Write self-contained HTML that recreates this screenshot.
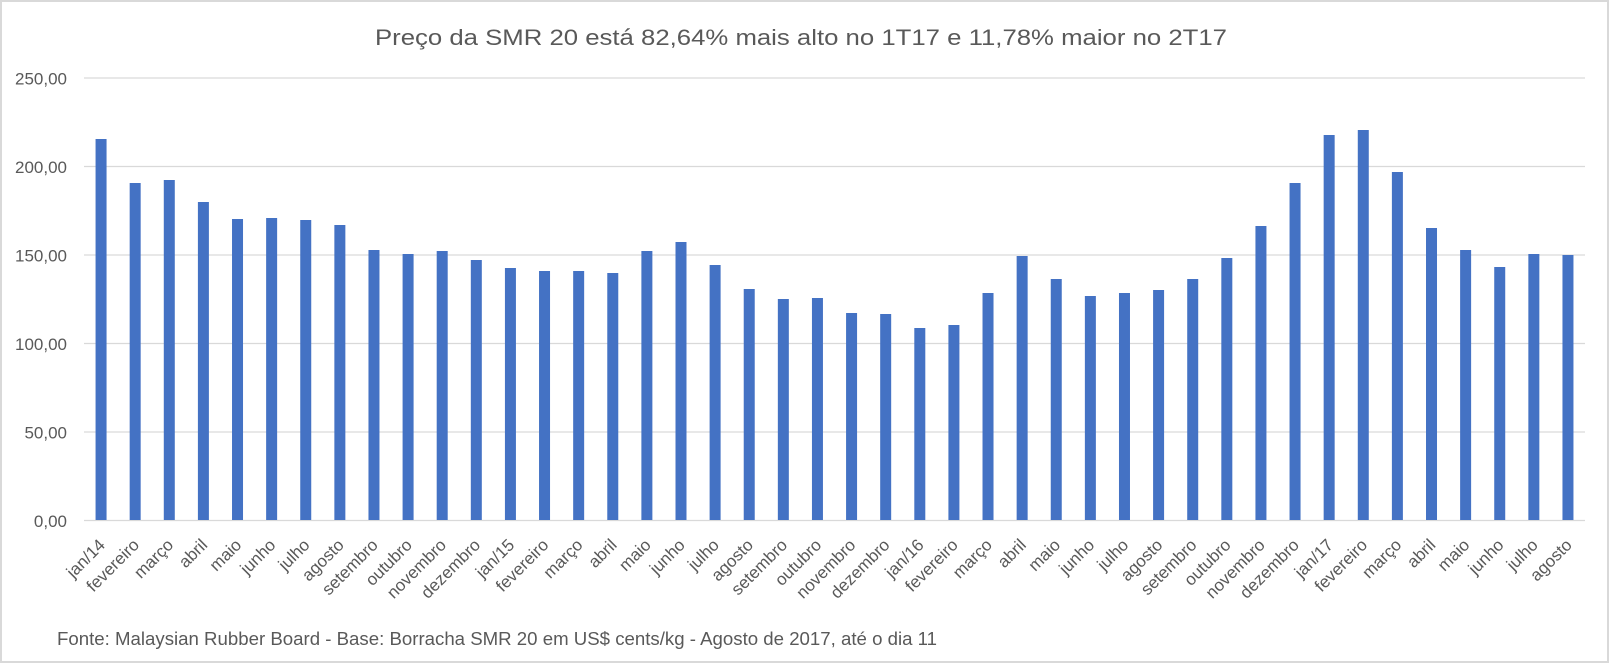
<!DOCTYPE html>
<html>
<head>
<meta charset="utf-8">
<style>
  html,body{margin:0;padding:0;background:#fff;}
  svg{display:block;}
  text{font-family:"Liberation Sans", Arial, sans-serif;fill:#595959;}
</style>
</head>
<body>
<svg width="1609" height="663" viewBox="0 0 1609 663" xmlns="http://www.w3.org/2000/svg">
  <rect x="0" y="0" width="1609" height="663" fill="#fff"/>
  <rect x="1" y="1" width="1607" height="661" fill="none" stroke="#d9d9d9" stroke-width="2"/>

  <!-- title -->
  <text x="801" y="45" font-size="22" text-anchor="middle" textLength="852" lengthAdjust="spacingAndGlyphs">Preço da SMR 20 está 82,64% mais alto no 1T17 e 11,78% maior no 2T17</text>

  <!-- gridlines -->
  <g stroke="#d9d9d9" stroke-width="1.3">
    <line x1="84" y1="78" x2="1585" y2="78"/>
    <line x1="84" y1="166.5" x2="1585" y2="166.5"/>
    <line x1="84" y1="255" x2="1585" y2="255"/>
    <line x1="84" y1="343.5" x2="1585" y2="343.5"/>
    <line x1="84" y1="432" x2="1585" y2="432"/>
    <line x1="84" y1="520.5" x2="1585" y2="520.5"/>
  </g>

  <!-- y labels -->
  <g font-size="17" text-anchor="end">
    <text x="67" y="84.5">250,00</text>
    <text x="67" y="173">200,00</text>
    <text x="67" y="261.5">150,00</text>
    <text x="67" y="350">100,00</text>
    <text x="67" y="438.5">50,00</text>
    <text x="67" y="527">0,00</text>
  </g>

  <!-- bars -->
  <g fill="#4472c4">
    <rect x="95.56" y="139" width="11" height="381"/>
    <rect x="129.67" y="183" width="11" height="337"/>
    <rect x="163.79" y="180" width="11" height="340"/>
    <rect x="197.90" y="202" width="11" height="318"/>
    <rect x="232.02" y="219" width="11" height="301"/>
    <rect x="266.13" y="218" width="11" height="302"/>
    <rect x="300.24" y="220" width="11" height="300"/>
    <rect x="334.36" y="225" width="11" height="295"/>
    <rect x="368.47" y="250" width="11" height="270"/>
    <rect x="402.59" y="254" width="11" height="266"/>
    <rect x="436.70" y="251" width="11" height="269"/>
    <rect x="470.81" y="260" width="11" height="260"/>
    <rect x="504.93" y="268" width="11" height="252"/>
    <rect x="539.04" y="271" width="11" height="249"/>
    <rect x="573.16" y="271" width="11" height="249"/>
    <rect x="607.27" y="273" width="11" height="247"/>
    <rect x="641.38" y="251" width="11" height="269"/>
    <rect x="675.50" y="242" width="11" height="278"/>
    <rect x="709.61" y="265" width="11" height="255"/>
    <rect x="743.73" y="289" width="11" height="231"/>
    <rect x="777.84" y="299" width="11" height="221"/>
    <rect x="811.95" y="298" width="11" height="222"/>
    <rect x="846.07" y="313" width="11" height="207"/>
    <rect x="880.18" y="314" width="11" height="206"/>
    <rect x="914.30" y="328" width="11" height="192"/>
    <rect x="948.41" y="325" width="11" height="195"/>
    <rect x="982.52" y="293" width="11" height="227"/>
    <rect x="1016.64" y="256" width="11" height="264"/>
    <rect x="1050.75" y="279" width="11" height="241"/>
    <rect x="1084.87" y="296" width="11" height="224"/>
    <rect x="1118.98" y="293" width="11" height="227"/>
    <rect x="1153.09" y="290" width="11" height="230"/>
    <rect x="1187.21" y="279" width="11" height="241"/>
    <rect x="1221.32" y="258" width="11" height="262"/>
    <rect x="1255.44" y="226" width="11" height="294"/>
    <rect x="1289.55" y="183" width="11" height="337"/>
    <rect x="1323.66" y="135" width="11" height="385"/>
    <rect x="1357.78" y="130" width="11" height="390"/>
    <rect x="1391.89" y="172" width="11" height="348"/>
    <rect x="1426.01" y="228" width="11" height="292"/>
    <rect x="1460.12" y="250" width="11" height="270"/>
    <rect x="1494.23" y="267" width="11" height="253"/>
    <rect x="1528.35" y="254" width="11" height="266"/>
    <rect x="1562.46" y="255" width="11" height="265"/>
  </g>

  <!-- x labels -->
  <g font-size="17" text-anchor="end">
    <text transform="translate(106.1,546) rotate(-45)">jan/14</text>
    <text transform="translate(140.2,546) rotate(-45)">fevereiro</text>
    <text transform="translate(174.3,546) rotate(-45)">março</text>
    <text transform="translate(208.4,546) rotate(-45)">abril</text>
    <text transform="translate(242.5,546) rotate(-45)">maio</text>
    <text transform="translate(276.6,546) rotate(-45)">junho</text>
    <text transform="translate(310.7,546) rotate(-45)">julho</text>
    <text transform="translate(344.9,546) rotate(-45)">agosto</text>
    <text transform="translate(379.0,546) rotate(-45)">setembro</text>
    <text transform="translate(413.1,546) rotate(-45)">outubro</text>
    <text transform="translate(447.2,546) rotate(-45)">novembro</text>
    <text transform="translate(481.3,546) rotate(-45)">dezembro</text>
    <text transform="translate(515.4,546) rotate(-45)">jan/15</text>
    <text transform="translate(549.5,546) rotate(-45)">fevereiro</text>
    <text transform="translate(583.7,546) rotate(-45)">março</text>
    <text transform="translate(617.8,546) rotate(-45)">abril</text>
    <text transform="translate(651.9,546) rotate(-45)">maio</text>
    <text transform="translate(686.0,546) rotate(-45)">junho</text>
    <text transform="translate(720.1,546) rotate(-45)">julho</text>
    <text transform="translate(754.2,546) rotate(-45)">agosto</text>
    <text transform="translate(788.3,546) rotate(-45)">setembro</text>
    <text transform="translate(822.5,546) rotate(-45)">outubro</text>
    <text transform="translate(856.6,546) rotate(-45)">novembro</text>
    <text transform="translate(890.7,546) rotate(-45)">dezembro</text>
    <text transform="translate(924.8,546) rotate(-45)">jan/16</text>
    <text transform="translate(958.9,546) rotate(-45)">fevereiro</text>
    <text transform="translate(993.0,546) rotate(-45)">março</text>
    <text transform="translate(1027.1,546) rotate(-45)">abril</text>
    <text transform="translate(1061.3,546) rotate(-45)">maio</text>
    <text transform="translate(1095.4,546) rotate(-45)">junho</text>
    <text transform="translate(1129.5,546) rotate(-45)">julho</text>
    <text transform="translate(1163.6,546) rotate(-45)">agosto</text>
    <text transform="translate(1197.7,546) rotate(-45)">setembro</text>
    <text transform="translate(1231.8,546) rotate(-45)">outubro</text>
    <text transform="translate(1265.9,546) rotate(-45)">novembro</text>
    <text transform="translate(1300.1,546) rotate(-45)">dezembro</text>
    <text transform="translate(1334.2,546) rotate(-45)">jan/17</text>
    <text transform="translate(1368.3,546) rotate(-45)">fevereiro</text>
    <text transform="translate(1402.4,546) rotate(-45)">março</text>
    <text transform="translate(1436.5,546) rotate(-45)">abril</text>
    <text transform="translate(1470.6,546) rotate(-45)">maio</text>
    <text transform="translate(1504.7,546) rotate(-45)">junho</text>
    <text transform="translate(1538.9,546) rotate(-45)">julho</text>
    <text transform="translate(1573.0,546) rotate(-45)">agosto</text>
  </g>

  <!-- footer -->
  <text x="57" y="645" font-size="18.5" textLength="880" lengthAdjust="spacingAndGlyphs">Fonte: Malaysian Rubber Board - Base: Borracha SMR 20 em US$ cents/kg - Agosto de 2017, até o dia 11</text>
</svg>
</body>
</html>
